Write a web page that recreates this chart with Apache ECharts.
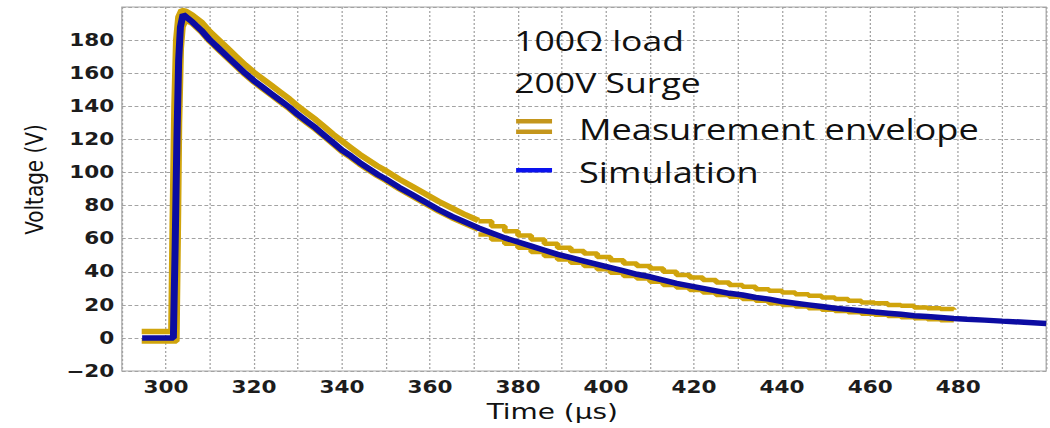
<!DOCTYPE html>
<html>
<head>
<meta charset="utf-8">
<script src="https://cdn.jsdelivr.net/npm/echarts@6.0.0/dist/echarts.min.js"></script>
<style>
html,body{margin:0;padding:0;overflow:hidden;background:#fff;}
#wrap{width:1050px;height:428px;overflow:hidden;}
#c{width:827px;height:428px;transform:scaleX(1.26965);transform-origin:0 0;}
</style>
</head>
<body>
<div id="wrap"><div id="c"></div></div>
<script>
// ---- Data ----
const xTickLabels = [300, 320, 340, 360, 380, 400, 420, 440, 460, 480];
const yTickLabels = [-20, 0, 20, 40, 60, 80, 100, 120, 140, 160, 180];

const simTime = [294.6, 301.7, 302.1, 302.5, 302.9, 303.3, 303.9,
  306, 308, 310, 312, 314, 316, 318, 320, 322, 324, 326, 328, 330, 332, 334, 336, 338, 340, 342, 344, 346, 348, 350,
  353, 356, 359, 362, 365, 368, 371, 374, 377, 380, 383, 386, 389, 392, 395, 398, 401, 404, 407, 410, 413, 416, 419,
  422, 425, 428, 431, 434, 437, 440, 443, 446, 449, 452, 455, 458, 461, 464, 467, 470, 473, 476, 479,
  482, 486, 490, 495, 500];
const simVolt = [0, 0, 55, 120, 168, 188, 195.5,
  191, 186, 180, 175, 170, 165, 160, 155.5, 151.5, 147.5, 143.5, 139.5, 135, 131, 127, 122.5, 118, 113.5, 110, 106, 102.5, 99, 96,
  91, 86.5, 82, 77.5, 73.5, 70, 66.5, 63.5, 60.5, 58, 55.5, 53, 50.5, 48.5, 46.5, 44.5, 42.5, 40.5, 38.5, 37, 35, 33, 31.5,
  30, 28.5, 27, 26, 24.5, 23.5, 22, 21, 20, 19, 18, 17.3, 16.5, 15.7, 15, 14.3, 13.5, 13, 12.4, 11.8,
  11.3, 10.8, 10.2, 9.5, 8.8];

// Measurement envelope, first part (baseline, rise and fast decay)
const envUpperHeadTime = [294.5, 301.3, 301.6, 302.0, 302.4, 302.9, 303.6, 304.5,
  306, 308, 310, 312, 314, 316, 318, 320, 322, 324, 326, 328, 330, 332, 334, 336, 338, 340, 342, 344, 346, 348, 350,
  353, 356, 359, 362, 365, 368, 371];
const envUpperHeadVolt = [4, 4, 70, 140, 180, 194, 198, 197.5,
  195, 191, 185, 180, 175, 170, 165, 160.5, 156.5, 152.5, 148.5, 144.5, 140, 136, 132, 127.5, 123, 119, 115, 111, 107.5, 104, 101,
  96, 91.5, 87, 82.5, 78.5, 74.5, 71];
const envLowerHeadTime = [294.5, 302.4, 302.7, 303.0, 303.4, 303.8, 304.5,
  306, 308, 310, 312, 314, 316, 318, 320, 322, 324, 326, 328, 330, 332, 334, 336, 338, 340, 342, 344, 346, 348, 350,
  353, 356, 359, 362, 365, 368, 371];
const envLowerHeadVolt = [-2, -2, 60, 130, 175, 188, 192,
  190, 185, 179, 174, 169, 164, 159, 154.5, 150.5, 146.5, 142.5, 138.5, 134, 130, 126, 121.5, 117, 112.5, 109, 105, 101.5, 98, 95,
  90, 85.5, 81, 76.5, 72.5, 69, 65.5];

// Measurement envelope, quantised tail (staircase)
const envTailTime = [371, 374, 377, 380, 383, 386, 389, 392, 395, 398, 401, 404, 407, 410, 413, 416, 419,
  422, 425, 428, 431, 434, 437, 440, 443, 446, 449, 452, 455, 458, 461, 464, 467, 470, 473, 476, 479];
const envUpperTailVolt = [70.5, 67.5, 64.5, 62, 59.5, 57, 54.5, 52.5, 51, 49, 47, 45, 43.5, 42, 40, 38, 36.5,
  35, 33.5, 32, 31, 29.5, 28.5, 27.5, 26.5, 25.5, 24.5, 23.5, 22.5, 21.5, 21, 20, 19.5, 18.5, 18, 17.5, 17];
const envLowerTailVolt = [62.5, 59.5, 57, 54.5, 52, 49.5, 47.5, 45.5, 43.5, 41.5, 39.5, 37.5, 36, 34, 32, 30.5, 29,
  27.5, 26, 25, 23.5, 22.5, 21, 20, 19, 18, 17, 16.3, 15.5, 14.7, 14, 13.3, 12.5, 12, 11.4, 10.8, 10.3];

const annotations = ['100\u03A9 load', '200V Surge'];
const legendNames = ['Measurement envelope', 'Simulation'];

// ---- Styling ----
const GOLD = '#d0a40c';
const GOLD_LEGEND = '#c4961c';
const BLUE = '#0c0ca2';
const BLUE_LEGEND = '#0a12ee';
const GRIDC = '#a3a3a3';

const zip = (a, b) => a.map((t, i) => [t, b[i]]);
const tickFont = { fontFamily: 'DejaVu Sans', fontWeight: 'bold', fontSize: 17, color: '#1c1c1c' };
const goldLine = (data, step, width) => ({
  type: 'line', name: legendNames[0], data: data, step: step, showSymbol: false, symbol: 'none',
  lineStyle: { color: GOLD, width: width }, z: 2
});

const chart = echarts.init(document.getElementById('c'), null, { renderer: 'svg' });
chart.setOption({
  animation: false,
  backgroundColor: '#fff',
  grid: { left: 96, right: 1, top: 7, bottom: 54, show: true, borderColor: '#a8a8a8', borderWidth: 1, containLabel: false },
  xAxis: {
    type: 'value', min: 290, max: 500, interval: 10,
    name: 'Time (\u00B5s)', nameLocation: 'middle', nameGap: 26,
    nameTextStyle: { fontFamily: 'DejaVu Sans', fontSize: 22, color: '#111', padding: [0, 50, 0, 0] },
    axisLine: { show: false }, axisTick: { show: false },
    axisLabel: Object.assign({ margin: 8, formatter: v => xTickLabels.indexOf(v) >= 0 ? String(v) : '' }, tickFont),
    splitLine: { show: true, lineStyle: { color: GRIDC, type: [2, 2], width: 1 } }
  },
  yAxis: {
    type: 'value', min: -20, max: 200, interval: 20,
    name: 'Voltage (V)', nameLocation: 'middle', nameGap: 59,
    nameTextStyle: { fontFamily: 'DejaVu Sans', fontSize: 20, color: '#111', padding: [0, 0, 0, 19] },
    axisLine: { show: false }, axisTick: { show: false },
    axisLabel: Object.assign({ margin: 6, formatter: v => yTickLabels.indexOf(v) >= 0 ? String(v).replace('-', '\u2212') : '' }, tickFont),
    splitLine: { show: true, lineStyle: { color: GRIDC, type: [3, 2], width: 1 } }
  },
  series: [
    goldLine(zip(envUpperHeadTime, envUpperHeadVolt), false, 5.5),
    goldLine(zip(envLowerHeadTime, envLowerHeadVolt), false, 5),
    goldLine(zip(envTailTime, envUpperTailVolt), 'end', 4.5),
    goldLine(zip(envTailTime, envLowerTailVolt), 'end', 4.5),
    { type: 'line', name: legendNames[1], data: zip(simTime, simVolt), showSymbol: false, symbol: 'none',
      lineStyle: { color: BLUE, width: 5.5 }, z: 3 }
  ],
  graphic: [
    { type: 'text', x: 405, y: 40, z: 10, style: { text: annotations[0], fontSize: 28, fontFamily: 'Open Sans', fill: '#111', verticalAlign: 'middle' } },
    { type: 'text', x: 405, y: 82, z: 10, style: { text: annotations[1], fontSize: 28, fontFamily: 'Open Sans', fill: '#111', verticalAlign: 'middle' } },
    { type: 'rect', z: 10, shape: { x: 406.5, y: 119, width: 28.3, height: 4.5 }, style: { fill: GOLD_LEGEND } },
    { type: 'rect', z: 10, shape: { x: 406.5, y: 129.5, width: 28.3, height: 4.5 }, style: { fill: GOLD_LEGEND } },
    { type: 'text', x: 456, y: 129, z: 10, style: { text: legendNames[0], fontSize: 28.5, fontFamily: 'Open Sans', fill: '#111', verticalAlign: 'middle' } },
    { type: 'rect', z: 10, shape: { x: 406.5, y: 168, width: 28.3, height: 4.5 }, style: { fill: BLUE_LEGEND } },
    { type: 'text', x: 456, y: 172, z: 10, style: { text: legendNames[1], fontSize: 28.5, fontFamily: 'Open Sans', fill: '#111', verticalAlign: 'middle' } }
  ]
});
</script>
</body>
</html>
